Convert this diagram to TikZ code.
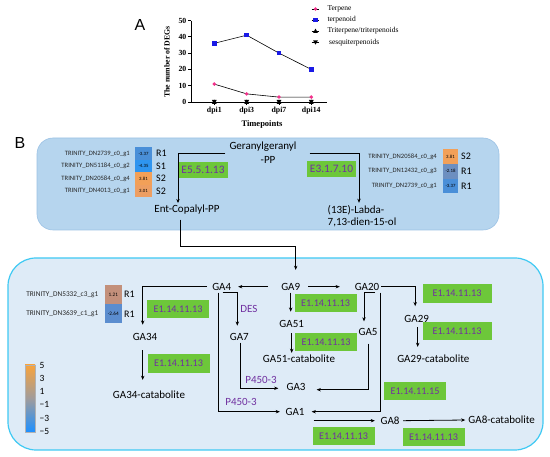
\documentclass[tikz,border=0pt]{standalone}
\usepackage{fontspec}
\setmainfont{Carlito}
\newfontfamily\serifA{Liberation Serif}
\newfontfamily\sansL{Liberation Sans}
\usetikzlibrary{arrows.meta}
\definecolor{upfill}{HTML}{B6D5EE}
\definecolor{upline}{HTML}{9CC2E4}
\definecolor{lowfill}{HTML}{DEEBF7}
\definecolor{lowline}{HTML}{3FC9F3}
\definecolor{egreen}{HTML}{6DC73A}
\definecolor{epurple}{HTML}{7030A0}
\definecolor{tblue}{HTML}{1A1AE6}
\definecolor{tpink}{HTML}{F2338C}
\definecolor{hA}{HTML}{4A8FD8}
\definecolor{hB}{HTML}{2E95F0}
\definecolor{hC}{HTML}{F2A058}
\definecolor{hD}{HTML}{ED9E62}
\definecolor{hE}{HTML}{6C8FC0}
\definecolor{hF}{HTML}{C3907B}
\definecolor{hG}{HTML}{5B8DCF}
\definecolor{cbTop}{HTML}{F8A33C}
\definecolor{cbMid}{HTML}{A09C9C}
\definecolor{cbBot}{HTML}{1E90FF}
\begin{document}
\begin{tikzpicture}[x=1pt,y=-1pt,
  arr/.style={-{Stealth[length=4.2pt,width=3.4pt]}, line width=0.8pt},
  ga/.style={font=\fontsize{11}{13}\selectfont, inner sep=2pt},
  enz/.style={fill=egreen, text=epurple, font=\fontsize{10.2}{12}\selectfont, minimum width=62pt, minimum height=18.5pt, inner sep=1pt},
  enzup/.style={fill=egreen, text=epurple, font=\fontsize{11.4}{13}\selectfont, minimum width=49pt, minimum height=16.5pt, inner sep=1pt},
  plab/.style={text=epurple, font=\fontsize{11}{13}\selectfont, inner sep=0pt},
  gene/.style={anchor=east, font=\fontsize{6.6}{7}\selectfont, inner sep=0pt, text=black!85},
  cell/.style={inner sep=0pt, minimum width=17pt, minimum height=12.5pt, font=\fontsize{4.8}{5}\selectfont},
  grp/.style={anchor=west, font=\fontsize{10}{12}\selectfont, inner sep=0pt},
  tick/.style={font=\serifA\bfseries\fontsize{7.8}{9}\selectfont, inner sep=0pt},
  leg/.style={anchor=west, font=\serifA\fontsize{7.5}{9}\selectfont, inner sep=0pt}
]
\useasboundingbox (0,0) rectangle (550,457);

% ---------------- Panel A ----------------
\node[font=\sansL\fontsize{16}{18}\selectfont] (labA) at (140,25) {A};
\draw[line width=0.9pt] (191,20.7) -- (191,102) -- (327,102);
\foreach \v/\yy in {0/102,10/85.7,20/69.4,30/53.1,40/36.8,50/20.5}{
  \draw[line width=0.8pt] (188,\yy) -- (191,\yy);
  \node[tick, anchor=east] at (186.5,\yy) {\v};
}
\foreach \xx/\t in {214.3/dpi1,246.7/dpi3,279/dpi7,311.3/dpi14}{
  \draw[line width=0.8pt] (\xx,102) -- (\xx,105);
  \node[tick] at (\xx,110.5) {\t};
}
\node[font=\serifA\bfseries\fontsize{8.5}{10}\selectfont] (xlab) at (262,124) {Timepoints};
\node[font=\serifA\bfseries\fontsize{7.8}{9}\selectfont, rotate=90] (ylab) at (167,62) {The number of DEGs};
\draw[line width=0.6pt] (214.3,43.3) -- (246.7,35.2) -- (279,53.1) -- (311.3,69.4);
\draw[line width=0.6pt] (214.3,84.1) -- (246.7,93.9) -- (279,97.1) -- (311.3,97.1);
\foreach \xx/\yy in {214.3/43.3,246.7/35.2,279/53.1,311.3/69.4}
  \fill[tblue] (\xx-2.3,\yy-2.3) rectangle (\xx+2.3,\yy+2.3);
\foreach \xx/\yy in {214.3/84.1,246.7/93.9,279/97.1,311.3/97.1}
  \fill[tpink] (\xx,\yy) circle (1.9);
\foreach \xx in {214.3,246.7,279,311.3}{
  \fill (\xx-2.4,104) -- (\xx+2.4,104) -- (\xx,99.6) -- cycle;
  \fill (\xx-2.4,100) -- (\xx+2.4,100) -- (\xx,104.4) -- cycle;
}
% legend
\draw[line width=0.6pt] (311.7,9) -- (319.3,9);
\fill[tpink] (315.5,9) circle (1.9);
\node[leg] (l1) at (327.3,9) {Terpene};
\draw[line width=0.6pt] (311.7,20) -- (319.3,20);
\fill[tblue] (313.3,17.8) rectangle (317.7,22.2);
\node[leg] (l2) at (327.3,20) {terpenoid};
\draw[line width=0.6pt] (311.7,31) -- (319.3,31);
\fill (313.1,33) -- (317.9,33) -- (315.5,28.6) -- cycle;
\node[leg] (l3) at (327.3,31) {Triterpene/triterpenoids};
\draw[line width=0.6pt] (311.7,42.3) -- (319.3,42.3);
\fill (313.1,40.3) -- (317.9,40.3) -- (315.5,44.7) -- cycle;
\node[leg] (l4) at (329,42.3) {sesquiterpenoids};

% ---------------- Panel B ----------------
\node[font=\sansL\fontsize{16}{18}\selectfont] (labB) at (20,143) {B};
\fill[upfill, draw=upline, line width=0.6pt, rounded corners=16pt] (37,138) rectangle (499,230);
\fill[lowfill, draw=lowline, line width=1.2pt, rounded corners=28pt] (8,258) rectangle (543,450);

% upper genes left
\node[gene] (g1) at (130,153.5) {TRINITY\_DN2739\_c0\_g1};
\node[gene] (g2) at (130,166) {TRINITY\_DN51184\_c0\_g2};
\node[gene] (g3) at (130,178.5) {TRINITY\_DN20584\_c0\_g4};
\node[gene] (g4) at (130,191) {TRINITY\_DN4013\_c0\_g1};
\node[cell, fill=hA] (c1) at (143.5,153.5) {-3.37};
\node[cell, fill=hB] (c2) at (143.5,166) {-4.35};
\node[cell, fill=hC] (c3) at (143.5,178.5) {3.81};
\node[cell, fill=hD] (c4) at (143.5,191) {3.01};
\node[grp] (r1) at (156,153.5) {R1};
\node[grp] (r2) at (156,166) {S1};
\node[grp] (r3) at (156,178.5) {S2};
\node[grp] (r4) at (156,191) {S2};

% upper genes right
\node[gene] (g5) at (437,156.6) {TRINITY\_DN20584\_c0\_g4};
\node[gene] (g6) at (437,171.3) {TRINITY\_DN12432\_c0\_g3};
\node[gene] (g7) at (437,186) {TRINITY\_DN2739\_c0\_g1};
\node[cell, fill=hC, minimum width=15.6pt, minimum height=14.7pt] (c5) at (450.5,156.6) {3.81};
\node[cell, fill=hE, minimum width=15.6pt, minimum height=14.7pt] (c6) at (450.5,171.3) {-2.18};
\node[cell, fill=hA, minimum width=15.6pt, minimum height=14.7pt] (c7) at (450.5,186) {-3.37};
\node[grp] (r5) at (461,156.6) {S2};
\node[grp] (r6) at (461,171.3) {R1};
\node[grp] (r7) at (461,186) {R1};

% upper pathway
\node[ga, align=center, font=\fontsize{11}{14}\selectfont] (gg) at (263,153) {Geranylgeranyl\\\hspace*{10pt}-PP};
\node[ga] (ent) at (187,210) {Ent-Copalyl-PP};
\node[ga, align=left, font=\fontsize{11}{12.5}\selectfont] (labda) at (362,216) {(13E)-Labda-\\7,13-dien-15-ol};
\node[enzup] (e1) at (203,170) {E5.5.1.13};
\node[enzup] (e2) at (331.5,169) {E3.1.7.10};
\draw[arr] ([xshift=-2pt]gg.west) -| ([xshift=-9pt]ent.north);
\draw[arr] ([xshift=11pt]gg.east) -| ([xshift=-3pt]labda.north);

% lower genes
\node[gene, font=\fontsize{7.3}{8}\selectfont] (g8) at (98.5,294.6) {TRINITY\_DN5332\_c3\_g1};
\node[gene, font=\fontsize{7.3}{8}\selectfont] (g9) at (98.5,313.8) {TRINITY\_DN3639\_c1\_g1};
\node[cell, fill=hF, minimum width=16.7pt, minimum height=19.2pt, font=\fontsize{5.2}{6}\selectfont] (c8) at (113.3,294.6) {1.21};
\node[cell, fill=hG, minimum width=16.7pt, minimum height=19.2pt, font=\fontsize{5.2}{6}\selectfont] (c9) at (113.3,313.8) {-2.64};
\node[grp] (r8) at (124,294.6) {R1};
\node[grp] (r9) at (124,313.8) {R1};

% color bar
\shade[top color=cbTop, bottom color=cbBot, middle color=cbMid] (25,365) rectangle (35,431.7);
\draw[black!30, line width=0.3pt] (25,365) rectangle (35,431.7);
\foreach \yy/\t in {365.7/5,378.5/3,391.2/1,404/−1,418.3/−3,431.7/−5}
  \node[anchor=west, font=\fontsize{9.5}{11}\selectfont, inner sep=0pt] at (39.5,\yy) {\t};

% lower nodes
\node[ga] (ga4) at (221.7,286.7) {GA4};
\node[ga] (ga9) at (290.7,286.7) {GA9};
\node[ga] (ga20) at (367,286.7) {GA20};
\node[ga] (ga51) at (291.7,324) {GA51};
\node[ga] (ga51c) at (299,359) {GA51-catabolite};
\node[ga] (ga5) at (368,331.7) {GA5};
\node[ga] (ga29) at (416.7,319) {GA29};
\node[ga] (ga29c) at (433.3,359) {GA29-catabolite};
\node[ga] (ga3) at (296,386.7) {GA3};
\node[ga] (ga1) at (295,411.7) {GA1};
\node[ga] (ga8) at (390,420.7) {GA8};
\node[ga] (ga8c) at (501.7,420) {GA8-catabolite};
\node[ga] (ga34) at (145,337.3) {GA34};
\node[ga] (ga34c) at (149,395) {GA34-catabolite};
\node[ga] (ga7) at (239.3,336.7) {GA7};

% enzymes lower
\node[enz] (e3) at (325.5,303) {E1.14.11.13};
\node[enz] (e4) at (326,342) {E1.14.11.13};
\node[enz, minimum width=69pt] (e5) at (457,293.5) {E1.14.11.13};
\node[enz, minimum width=69pt] (e6) at (457,331) {E1.14.11.13};
\node[enz] (e7) at (415,391) {E1.14.11.15};
\node[enz] (e8) at (343.5,436) {E1.14.11.13};
\node[enz] (e9) at (433.5,437) {E1.14.11.13};
\node[enz] (e10) at (178,309) {E1.14.11.13};
\node[enz] (e11) at (178.5,363.7) {E1.14.11.13};

\node[plab] (des) at (249,309.3) {DES};
\node[plab] (p1) at (261,380) {P450-3};
\node[plab] (p2) at (241,401.7) {P450-3};

% connectors
\draw[arr, shorten <=2.6pt, shorten >=11pt] ([xshift=-7pt]ent.south) -- ++(0,29.3) -| ([xshift=5pt]ga9.north);
\draw[arr, shorten <=11pt, shorten >=4.8pt] (ga9.west) -- (ga4.east);
\draw[arr, shorten <=6pt, shorten >=12.8pt] (ga9.east) -- (ga20.west);
\draw[arr, shorten >=6.5pt] (ga9.south) -- (ga9.south |- ga51.north);
\draw[arr, shorten <=3.5pt] (ga51.south) -- (ga51.south |- ga51c.north);
\draw[arr, shorten >=4.5pt] ([xshift=8pt]ga20.south) -| ([xshift=-4pt]ga5.north);
\draw[arr, shorten >=5pt] ([xshift=13pt]ga20.south) |- (ga1.east);
\draw[arr, shorten <=6pt, shorten >=9pt] (ga5.south) |- ([yshift=-3pt]ga3.east);
\draw[arr, shorten >=7pt] (ga20.east) -| ([xshift=-1.5pt]ga29.north);
\draw[arr, shorten <=2.5pt, shorten >=6pt] ([xshift=1pt]ga29.south) -- ([xshift=1pt]ga29.south |- ga29c.north);
\draw[arr, shorten >=3.5pt] ([xshift=7pt]ga1.east |- ga8.west) -- (ga8.west);
\draw[arr, shorten <=1.5pt, shorten >=1pt] (ga8.east) -- (ga8c.west);
\draw[arr, shorten >=6.8pt] ([xshift=-3pt]ga4.west) -| ([xshift=-2.3pt]ga34.north);
\draw[arr, shorten <=7pt, shorten >=9pt] ([xshift=-2.3pt]ga34.south) -- ([xshift=-2.3pt]ga34.south |- ga34c.north);
\draw[arr, shorten >=5.2pt] ([xshift=1pt]ga4.south) -| ([xshift=-2pt]ga7.north);
\draw[arr, shorten >=3.5pt] ([xshift=-3.7pt]ga4.south) |- (ga1.west);
\draw[arr, shorten >=6pt] ([xshift=0.7pt]ga7.south) |- ([yshift=-1.6pt]ga3.west);
\end{tikzpicture}
\end{document}
